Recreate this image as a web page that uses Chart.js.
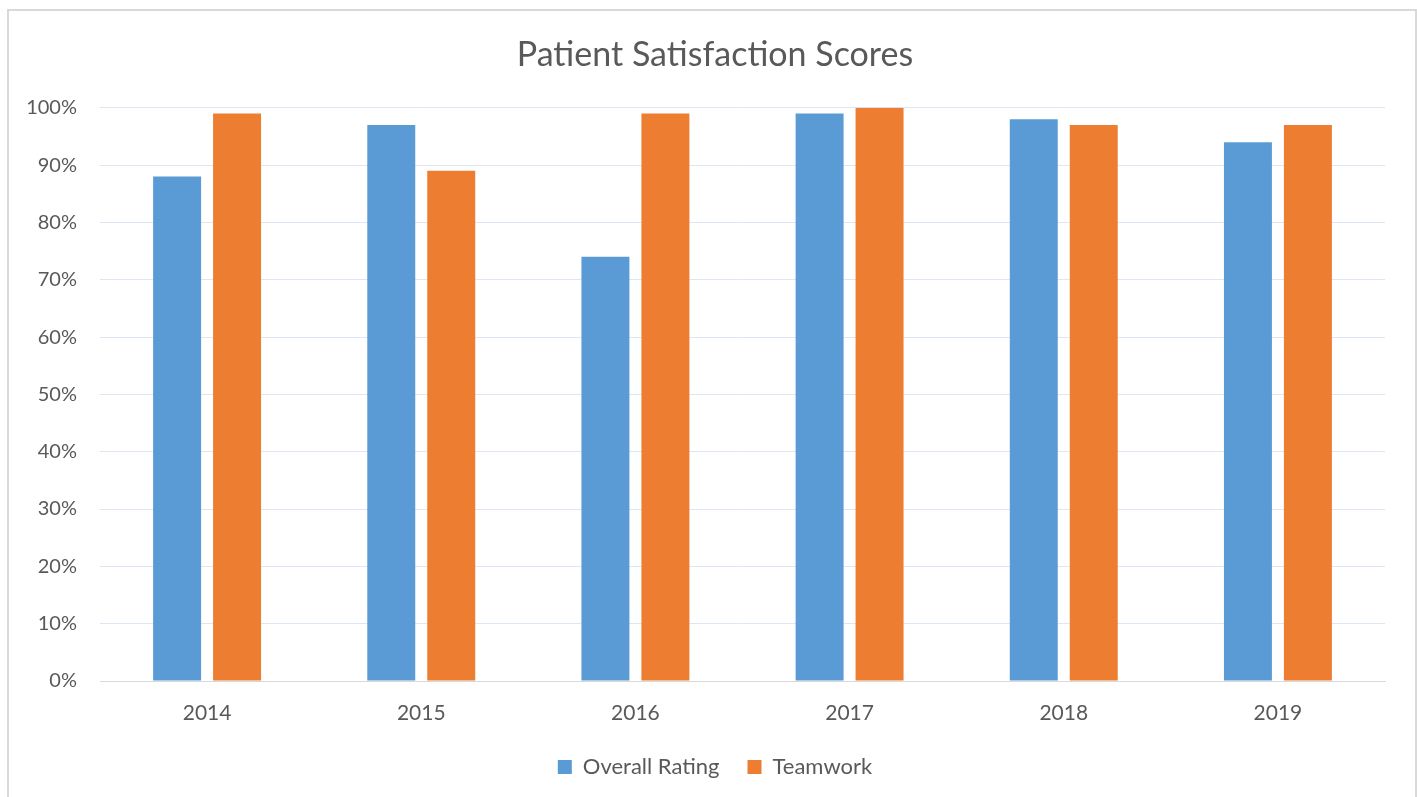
<!DOCTYPE html>
<html>
<head>
<meta charset="utf-8">
<script src="https://cdn.jsdelivr.net/npm/chart.js@4"></script>
<style>
  body { margin: 0; background: #fff; }
  #frame { position: absolute; left: 7px; top: 9px; width: 1406px; height: 800px; border: 2px solid #d9d9d9; pointer-events: none; }
  canvas { position: absolute; left: 0; top: 0; }
</style>
</head>
<body>
<canvas id="chart" width="1417" height="797"></canvas>
<div id="frame"></div>
<script>
// data
const years = ['2014', '2015', '2016', '2017', '2018', '2019'];
const overallRating = [88, 97, 74, 99, 98, 94];
const teamwork = [99, 89, 99, 100, 97, 97];

const ctx = document.getElementById('chart').getContext('2d');
new Chart(ctx, {
  type: 'bar',
  data: {
    labels: years,
    datasets: [
      { label: 'Overall Rating', data: overallRating, backgroundColor: '#5b9bd5' },
      { label: 'Teamwork', data: teamwork, backgroundColor: '#ed7d31' },
    ],
  },
  options: {
    responsive: false,
    animation: false,
    devicePixelRatio: 1,
    categoryPercentage: 0.56,
    barPercentage: 0.8,
    layout: { padding: { left: 13, right: 0, top: 0, bottom: 9 } },
    font: { family: 'Lato' },
    plugins: {
      title: {
        display: true,
        text: 'Patient Satisfaction Scores',
        color: '#595959',
        font: { family: 'Lato', size: 34, weight: 'normal' },
        padding: { top: 35, bottom: 32 },
      },
      legend: {
        position: 'bottom',
        labels: {
          color: '#595959',
          font: { family: 'Lato', size: 22 },
          boxWidth: 14,
          boxHeight: 14,
          padding: 28,
        },
      },
      tooltip: { enabled: false },
    },
    scales: {
      x: {
        grid: { display: false },
        border: { color: '#d9d9d9', width: 1 },
        ticks: { color: '#595959', font: { family: 'Lato', size: 21 }, padding: 12 },
        afterFit: (s) => { s.height = 47; },
      },
      y: {
        min: 0,
        max: 100,
        grid: { color: '#dce7f3', drawTicks: false },
        border: { display: false },
        ticks: {
          stepSize: 10,
          color: '#595959',
          font: { family: 'Lato', size: 20 },
          padding: 23,
          callback: (v) => v + '%',
        },
        afterFit: (s) => { s.width = 87; },
      },
      // empty right-hand gutter, keeps the legend centred like the original
      gutter: {
        position: 'right',
        min: 0,
        max: 100,
        grid: { display: false },
        border: { display: false },
        ticks: { display: false },
        afterFit: (s) => { s.width = 32; },
      },
    },
  },
});
</script>
</body>
</html>
